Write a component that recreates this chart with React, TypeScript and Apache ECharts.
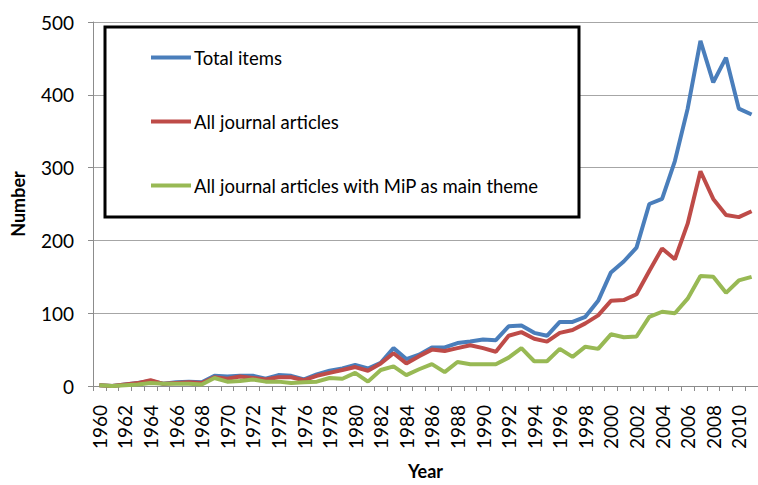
import React, { useEffect, useRef } from "react";
import * as echarts from "echarts";

const years: string[] = [];
for (let y = 1960; y <= 2011; y++) years.push(String(y));

const totalItems = [
  1, 0, 2, 4, 7, 3, 5, 6, 5, 14,
  13, 14, 14, 10, 15, 14, 9, 16, 21, 24,
  29, 24, 32, 52, 37, 43, 53, 53, 59, 61,
  64, 63, 82, 83, 73, 69, 88, 88, 95, 117,
  156, 171, 190, 250, 257, 309, 381, 474, 417, 451,
  381, 373,
];

const journalArticles = [
  1, 0, 2, 4, 8, 3, 4, 5, 4, 12,
  10, 13, 11, 9, 12, 12, 8, 14, 18, 22,
  26, 21, 31, 45, 31, 41, 50, 48, 52, 56,
  52, 47, 69, 74, 65, 61, 73, 77, 86, 97,
  117, 118, 126, 158, 189, 174, 223, 295, 257, 235,
  232, 240,
];

const mipArticles = [
  1, 0, 1, 2, 4, 3, 3, 3, 2, 11,
  6, 7, 9, 6, 6, 4, 5, 6, 11, 10,
  18, 6, 22, 27, 15, 23, 30, 19, 33, 30,
  30, 30, 39, 52, 34, 34, 51, 40, 54, 51,
  71, 67, 68, 95, 102, 100, 120, 151, 150, 128,
  145, 150,
];

const seriesNames = [
  "Total items",
  "All journal articles",
  "All journal articles with MiP as main theme",
];
const colors = ["#4A7EBB", "#BE4B48", "#98B954"];

const FONT = "Lato, 'Open Sans', sans-serif";

export default function App() {
  const ref = useRef<HTMLDivElement>(null);
  useEffect(() => {
    if (!ref.current) return;
    const chart = echarts.init(ref.current, undefined, { renderer: "svg" });
    const mk = (name: string, data: number[], color: string) => ({
      name,
      type: "line",
      data,
      symbol: "none",
      smooth: false,
      lineStyle: { color, width: 4 },
      itemStyle: { color },
      z: 3,
    });
    chart.setOption({
      animation: false,
      backgroundColor: "#ffffff",
      textStyle: { fontFamily: FONT },
      grid: { left: 93, top: 22, width: 671, bottom: 93, containLabel: false },
      legend: {
        orient: "vertical",
        left: 105,
        top: 27,
        padding: [21, 40, 22, 46],
        itemGap: 45,
        itemWidth: 40,
        itemHeight: 4,
        icon: "rect",
        backgroundColor: "#ffffff",
        borderColor: "#000000",
        borderWidth: 3,
        textStyle: { fontSize: 18.5, color: "#000", fontFamily: FONT, padding: [0, 0, 0, -2] },
        data: seriesNames,
        z: 10,
      },
      xAxis: {
        type: "category",
        data: years,
        boundaryGap: true,
        name: "Year",
        nameLocation: "middle",
        nameGap: 76,
        nameTextStyle: { fontSize: 18, fontWeight: "bold", color: "#000", fontFamily: FONT },
        axisLine: { lineStyle: { color: "#8c8c8c", width: 1 } },
        axisTick: { show: true, interval: 0, length: 5, lineStyle: { color: "#8c8c8c" } },
        axisLabel: {
          interval: 1,
          rotate: 90,
          fontSize: 19,
          color: "#000",
          margin: 19,
          fontFamily: FONT,
        },
        splitLine: { show: false },
      },
      yAxis: {
        type: "value",
        min: 0,
        max: 500,
        interval: 100,
        name: "Number",
        nameLocation: "middle",
        nameRotate: 90,
        nameGap: 66,
        nameTextStyle: { fontSize: 18, fontWeight: "bold", color: "#000", fontFamily: FONT },
        axisLine: { show: true, lineStyle: { color: "#8c8c8c", width: 1 } },
        axisTick: { show: true, length: 5, lineStyle: { color: "#8c8c8c" } },
        axisLabel: { fontSize: 19, color: "#000", margin: 19, fontFamily: FONT },
        splitLine: { show: true, lineStyle: { color: "#a6a6a6", width: 1 } },
      },
      series: [
        mk(seriesNames[0], totalItems, colors[0]),
        mk(seriesNames[1], journalArticles, colors[1]),
        mk(seriesNames[2], mipArticles, colors[2]),
      ],
    });
    return () => chart.dispose();
  }, []);
  return (
    <div
      ref={ref}
      style={{ position: "fixed", left: 0, top: 0, width: 758, height: 485 }}
    />
  );
}
